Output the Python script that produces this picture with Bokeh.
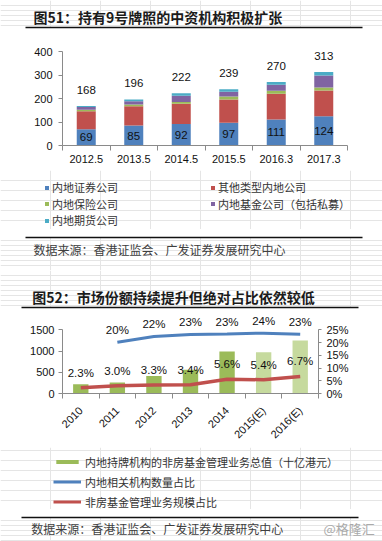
import math
import numpy as np
from bokeh.plotting import figure
from bokeh.models import (ColumnDataSource, FixedTicker, Legend, LegendItem,
                          LinearAxis, Range1d, NumeralTickFormatter)
from bokeh.layouts import column
from bokeh.embed import file_html
from bokeh.resources import INLINE
from bokeh.core.properties import value

# ---------------- data: chart 51 ----------------
periods = ["2012.5", "2013.5", "2014.5", "2015.5", "2016.3", "2017.3"]
securities = [69, 85, 92, 97, 111, 124]
other_mainland = [77, 82, 86, 99, 109, 110]
insurance = [6, 7, 7, 12, 13, 13]
funds = [12, 14, 27, 21, 25, 51]
futures = [4, 8, 10, 10, 12, 15]
totals = [168, 196, 222, 239, 270, 313]
series_names = ["内地证券公司", "其他类型内地公司", "内地保险公司", "内地基金公司（包括私募）", "内地期货公司"]

# ---------------- data: chart 52 ----------------
years = ["2010", "2011", "2012", "2013", "2014", "2015(E)", "2016(E)"]
aum = [220, 260, 410, 560, 990, 970, 1250]
inst_share = [np.nan, 0.201, 0.224, 0.232, 0.234, 0.237, 0.233]
aum_share = [0.023, 0.030, 0.033, 0.034, 0.056, 0.054, 0.067]
legend2_names = ["内地持牌机构的非房基金管理业务总值（十亿港元）", "内地相关机构数量占比", "非房基金管理业务规模占比"]

W = 382
CJK = "Noto Sans CJK SC"
NUM = "Liberation Sans"
AXIS_GREY = "#8a8a8a"
RULE = "#111111"
stack_colors = ["#4F81BD", "#C0504D", "#9BBB59", "#8064A2", "#4BACC6"]
BLUE, RED, GREEN, GREEN_E = "#4F81BD", "#C0504D", "#9BBB59", "#C6DA9E"

# legend proxies live left of the visible x range of the text panels
PROXY = [-200, -190]


def panel(top, h, border_top=0, border_bottom=0):
    """A text panel whose data coordinates are page pixels (y = -page_y)."""
    ft = top + border_top
    fb = top + h - border_bottom
    p = figure(width=W, height=h, x_range=Range1d(0, W), y_range=Range1d(-fb, -ft),
               output_backend="svg", toolbar_location=None, title=None,
               x_axis_location=None, y_axis_location=None,
               min_border_left=0, min_border_right=0,
               min_border_top=border_top, min_border_bottom=border_bottom,
               frame_align=False)
    p.outline_line_color = None
    p.background_fill_color = "white"
    p.border_fill_color = "white"
    return p, fb


def rule_axis(p, side, x0, x1):
    # separator rule drawn as a bare axis line limited to [x0, x1]
    ax = LinearAxis(ticker=FixedTicker(ticks=[]), bounds=(x0, x1),
                    axis_line_color=RULE, axis_line_width=1.5,
                    major_tick_line_color=None, minor_tick_line_color=None,
                    major_tick_out=0, major_tick_in=0, minor_tick_out=0, minor_tick_in=0,
                    major_label_text_font_size="0px", major_label_standoff=0)
    p.add_layout(ax, side)


def ptext(p, px, py, text, size, color="#222222", bold=False, font=CJK):
    p.text(x=[px], y=[-py], text=[text], text_font=value(font), text_font_size=value(size),
           text_color=color, text_font_style="bold" if bold else "normal",
           text_align="left", text_baseline="middle")


def plegend(p, fb, px, pyc, label, renderer, gw, gh, standoff, size="11px", lh=14):
    leg = Legend(items=[LegendItem(label=label, renderers=[renderer])],
                 location=(px, fb - (pyc + lh / 2)),
                 glyph_width=gw, glyph_height=gh, label_standoff=standoff,
                 label_text_font=CJK, label_text_font_size=size, label_text_color="#333333",
                 label_height=lh, spacing=0, padding=0, margin=0,
                 border_line_color=None, background_fill_alpha=0)
    p.add_layout(leg)


def style_axis(ax, size="11px"):
    ax.axis_line_color = AXIS_GREY
    ax.major_tick_line_color = AXIS_GREY
    ax.minor_tick_line_color = AXIS_GREY
    ax.major_label_text_font = NUM
    ax.major_label_text_font_size = size
    ax.major_label_text_color = "#111111"


# ================= chart 51 title + rule =================
pa, _ = panel(0, 44, border_bottom=17)
ptext(pa, 33, 16.5, "图51：持有9号牌照的中资机构积极扩张", "14px", color="#1b1b1b", bold=True)
rule_axis(pa, "below", 25, 362)

# ================= chart 51 =================
H1 = 126
FH1, L1, FW1 = 101, 62, 285
x1 = list(range(len(periods)))
ymax1 = 400 * FH1 / 94.0
p1 = figure(width=W, height=H1, x_range=Range1d(-0.5, len(periods) - 0.5), y_range=Range1d(0, ymax1),
            output_backend="svg", toolbar_location=None, title=None, frame_align=False,
            min_border_top=0, min_border_bottom=H1 - FH1, min_border_left=L1,
            min_border_right=W - L1 - FW1)
p1.xgrid.visible = False
p1.ygrid.visible = False
p1.outline_line_color = None
p1.background_fill_color = "white"
p1.border_fill_color = "white"

src1 = ColumnDataSource(dict(x=x1, sec=securities, oth=other_mainland, ins=insurance, fund=funds, fut=futures,
                             mid=np.array(securities) / 2.0, sec_txt=[str(v) for v in securities],
                             tot=totals, tot_txt=[str(v) for v in totals]))
rs1 = p1.vbar_stack(["sec", "oth", "ins", "fund", "fut"], x="x", width=0.4, color=stack_colors,
                    line_color=None, source=src1)
p1.text(x="x", y="mid", text="sec_txt", source=src1, text_align="center", text_baseline="middle",
        text_font=value(NUM), text_font_size=value("11.5px"), text_color="#111111")
p1.text(x="x", y="tot", text="tot_txt", source=src1, text_align="center", text_baseline="middle",
        y_offset=-16, text_font=value(NUM), text_font_size=value("11.5px"), text_color="#111111")

ya = p1.yaxis[0]
ya.ticker = FixedTicker(ticks=[0, 100, 200, 300, 400])
ya.bounds = (0, 400)
ya.major_tick_out = 4
ya.major_tick_in = 0
ya.minor_tick_out = 0
ya.minor_tick_in = 0
ya.major_label_standoff = 6
style_axis(ya)

xa = p1.xaxis[0]
xa.ticker = FixedTicker(ticks=x1, minor_ticks=[i - 0.5 for i in range(len(periods) + 1)])
xa.major_label_overrides = {i: periods[i] for i in x1}
xa.major_tick_out = 0
xa.major_tick_in = 0
xa.minor_tick_out = 5
xa.minor_tick_in = 0
xa.major_label_standoff = 4
style_axis(xa)

# ================= chart 51 legend =================
pb, fb_b = panel(170, 59)
proxy1 = [pb.quad(left=[PROXY[0]], right=[PROXY[1]], bottom=[-200], top=[-195],
                  fill_color=c, line_color=None) for c in stack_colors]
leg_pos1 = [(44, 188.3), (210, 188.3), (44, 204.5), (210, 204.5), (44, 221)]
for i in range(5):
    px, py = leg_pos1[i]
    plegend(pb, fb_b, px, py, series_names[i], proxy1[i], 5, 5, 3)

# ================= chart 51 rule + source =================
pc, _ = panel(229, 41, border_top=8)
rule_axis(pc, "above", 25, 362)
ptext(pc, 33, 248.5, "数据来源：香港证监会、广发证券发展研究中心", "12px", color="#404040")

# ================= chart 52 title + rule =================
pd_, _ = panel(270, 43, border_bottom=6)
ptext(pd_, 31.7, 296, "图52：市场份额持续提升但绝对占比依然较低", "14px", color="#1b1b1b", bold=True)
rule_axis(pd_, "below", 21, 358)

# ================= chart 52 =================
H2 = 134
FH2, L2, FW2 = 88, 62, 256
x2 = list(range(len(years)))
ymax2 = 1500 * FH2 / 70.0
p2 = figure(width=W, height=H2, x_range=Range1d(-0.5, len(years) - 0.5), y_range=Range1d(0, ymax2),
            output_backend="svg", toolbar_location=None, title=None, frame_align=False,
            min_border_top=0, min_border_bottom=H2 - FH2, min_border_left=L2,
            min_border_right=W - L2 - FW2)
p2.xgrid.visible = False
p2.ygrid.visible = False
p2.outline_line_color = None
p2.background_fill_color = "white"
p2.border_fill_color = "white"
p2.extra_y_ranges = {"pct": Range1d(0, 0.25 * FH2 / 70.0)}

bar_colors = [GREEN] * 5 + [GREEN_E] * 2
src2 = ColumnDataSource(dict(x=x2, aum=aum, color=bar_colors, share=aum_share,
                             share_txt=["%.1f%%" % (v * 100) for v in aum_share]))
p2.vbar(x="x", top="aum", width=0.42, fill_color="color", line_color=None, source=src2)

mask = ~np.isnan(np.array(inst_share))
src3 = ColumnDataSource(dict(x=np.array(x2)[mask], s=np.array(inst_share)[mask],
                             txt=["%d%%" % round(v * 100) for v in np.array(inst_share)[mask]]))
p2.line(x="x", y="s", source=src3, y_range_name="pct", line_color=BLUE, line_width=3)
p2.line(x="x", y="share", source=src2, y_range_name="pct", line_color=RED, line_width=3.5)
p2.text(x="x", y="s", text="txt", source=src3, y_range_name="pct", text_align="center",
        text_baseline="middle", y_offset=-12, text_font=value(NUM), text_font_size=value("11.5px"),
        text_color="#111111")
p2.text(x="x", y="share", text="share_txt", source=src2, y_range_name="pct", text_align="center",
        text_baseline="middle", y_offset=-15, text_font=value(NUM), text_font_size=value("11.5px"),
        text_color="#111111")

ya2 = p2.yaxis[0]
ya2.ticker = FixedTicker(ticks=[0, 500, 1000, 1500])
ya2.bounds = (0, 1500)
ya2.major_tick_out = 4
ya2.major_tick_in = 0
ya2.minor_tick_out = 0
ya2.minor_tick_in = 0
ya2.major_label_standoff = 4
style_axis(ya2)

ra = LinearAxis(y_range_name="pct", ticker=FixedTicker(ticks=[0, 0.05, 0.10, 0.15, 0.20, 0.25]),
                formatter=NumeralTickFormatter(format="0%"), bounds=(0, 0.25))
ra.major_tick_out = 3
ra.major_tick_in = 0
ra.minor_tick_out = 0
ra.minor_tick_in = 0
ra.major_label_standoff = 5
style_axis(ra)
p2.add_layout(ra, "right")

xa2 = p2.xaxis[0]
xa2.ticker = FixedTicker(ticks=x2, minor_ticks=[i - 0.5 for i in range(len(years) + 1)])
xa2.major_label_overrides = {i: years[i] for i in x2}
xa2.major_label_orientation = math.pi / 4
xa2.major_tick_out = 0
xa2.major_tick_in = 0
xa2.minor_tick_out = 5
xa2.minor_tick_in = 0
xa2.major_label_standoff = 10
style_axis(xa2)

# ================= chart 52 legend =================
pe, fb_e = panel(447, 62)
px_bar = pe.quad(left=[PROXY[0]], right=[PROXY[1]], bottom=[-480], top=[-475],
                 fill_color=GREEN, line_color=None)
px_blue = pe.line(x=PROXY, y=[-480, -480], line_color=BLUE, line_width=3)
px_red = pe.line(x=PROXY, y=[-480, -480], line_color=RED, line_width=3)
leg_rs = [px_bar, px_blue, px_red]
leg_y2 = [462.7, 482.7, 502.7]
for i in range(3):
    plegend(pe, fb_e, 53, leg_y2[i], legend2_names[i], leg_rs[i], 28, 5, 4)

# ================= chart 52 rule + source =================
pf, _ = panel(509, 32, border_top=8)
rule_axis(pf, "above", 21, 358)
ptext(pf, 30.7, 528.3, "数据来源：香港证监会、广发证券发展研究中心", "12px", color="#404040")
ptext(pf, 323, 528.3, "@格隆汇", "13px", color="#aaaaaa")

layout = column(pa, p1, pb, pc, pd_, p2, pe, pf, spacing=0)
open("out.html", "w").write(file_html(layout, INLINE))
